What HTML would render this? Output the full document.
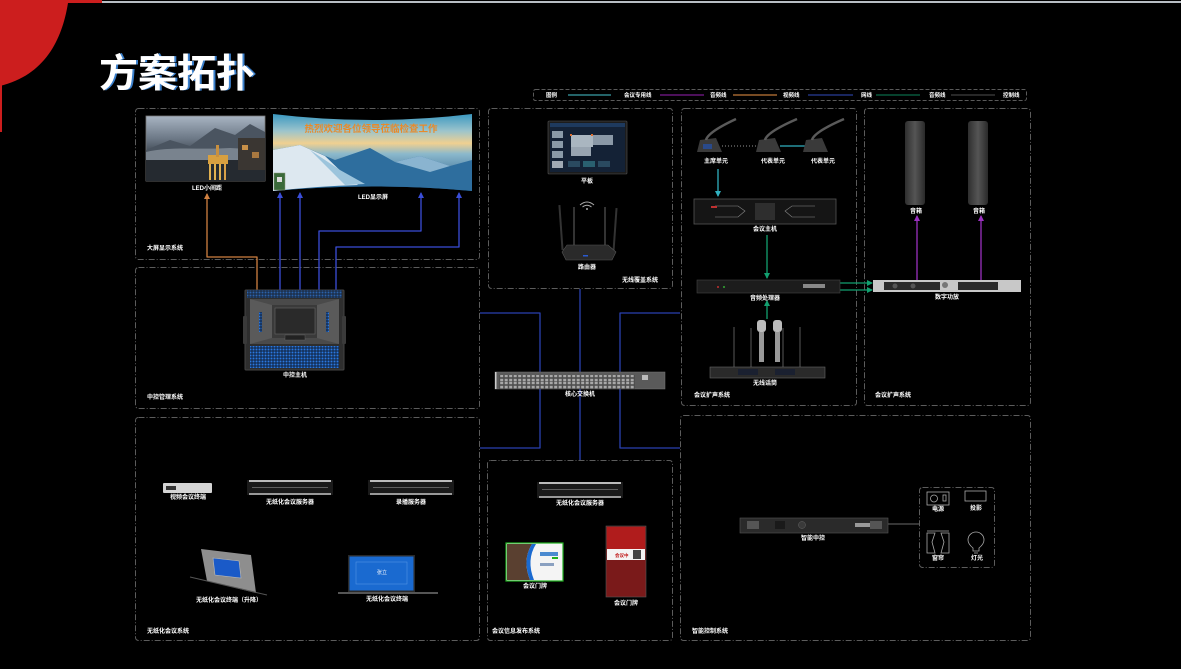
<!DOCTYPE html>
<html><head><meta charset="utf-8"><style>
html,body{margin:0;padding:0;background:#000;}
svg{display:block;}
text{font-family:"Liberation Sans","Noto Sans CJK SC",sans-serif;fill:#fff;font-weight:bold;}
.l{font-size:6px;text-anchor:middle;}
.s{font-size:6px;text-anchor:start;}
</style></head><body>
<svg width="1181" height="669" viewBox="0 0 1181 669" xmlns="http://www.w3.org/2000/svg">
<defs>
<marker id="aO" markerWidth="6" markerHeight="6" refX="5" refY="3" orient="auto" markerUnits="userSpaceOnUse"><path d="M0,0 L6,3 L0,6 Z" fill="#d08040"/></marker>
<marker id="aB" markerWidth="6" markerHeight="6" refX="5" refY="3" orient="auto" markerUnits="userSpaceOnUse"><path d="M0,0 L6,3 L0,6 Z" fill="#3a4ed8"/></marker>
<marker id="aT" markerWidth="6" markerHeight="6" refX="5" refY="3" orient="auto" markerUnits="userSpaceOnUse"><path d="M0,0 L6,3 L0,6 Z" fill="#30b0c0"/></marker>
<marker id="aG" markerWidth="6" markerHeight="6" refX="5" refY="3" orient="auto" markerUnits="userSpaceOnUse"><path d="M0,0 L6,3 L0,6 Z" fill="#12a070"/></marker>
<marker id="aP" markerWidth="6" markerHeight="6" refX="5" refY="3" orient="auto" markerUnits="userSpaceOnUse"><path d="M0,0 L6,3 L0,6 Z" fill="#9a30c0"/></marker>
<linearGradient id="sky1" x1="0" y1="0" x2="0" y2="1">
<stop offset="0" stop-color="#a8b4c2"/><stop offset="0.35" stop-color="#6c7886"/><stop offset="0.6" stop-color="#3a424c"/><stop offset="1" stop-color="#1e2228"/></linearGradient>
<linearGradient id="sky2" x1="0" y1="0" x2="0" y2="1">
<stop offset="0" stop-color="#3a98c0"/><stop offset="0.22" stop-color="#9cc4cc"/><stop offset="0.38" stop-color="#f0d090"/><stop offset="0.52" stop-color="#8ab8cc"/><stop offset="1" stop-color="#1a4e80"/></linearGradient>
<linearGradient id="spk" x1="0" y1="0" x2="1" y2="0">
<stop offset="0" stop-color="#2e2e2e"/><stop offset="0.5" stop-color="#555"/><stop offset="1" stop-color="#2a2a2a"/></linearGradient>
<pattern id="dots" width="3" height="3" patternUnits="userSpaceOnUse"><rect width="3" height="3" fill="#10203a"/><rect x="0.5" y="0.5" width="2" height="2" fill="#2a78e0"/></pattern>
<pattern id="ports" width="4.5" height="7" patternUnits="userSpaceOnUse"><rect width="4.5" height="7" fill="#4e4e4e"/><rect x="0.7" y="0.8" width="3" height="2.4" fill="#a8a8a8"/><rect x="0.7" y="3.8" width="3" height="2.4" fill="#a8a8a8"/></pattern>
</defs>
<rect width="1181" height="669" fill="#000"/>
<rect x="100" y="1" width="1081" height="2" fill="#b8bec4"/>
<path d="M0,0 H102 V3 H68 C62,40 45,75 0,86 Z" fill="#cc1e1e"/>
<rect x="0" y="84" width="2" height="48" fill="#cc1e1e"/>
<text x="101" y="87" style="font-size:39px;fill:#4aa0ff" opacity="0.8">方案拓扑</text>
<text x="99" y="87" style="font-size:39px;">方案拓扑</text>

<rect x="533.5" y="89.5" width="493" height="11" rx="2" fill="none" stroke="#5a5a5a" stroke-dasharray="4 2"/>
<g style="font-size:5.5px">
<text x="546" y="97">图例</text>
<text x="624" y="97">会议专用线</text>
<text x="710" y="97">音频线</text>
<text x="783" y="97">视频线</text>
<text x="861" y="97">网线</text>
<text x="929" y="97">音频线</text>
<text x="1003" y="97">控制线</text>
</g>
<g stroke-width="1.3">
<line x1="568" y1="95" x2="611" y2="95" stroke="#3aa0a8"/>
<line x1="660" y1="95" x2="704" y2="95" stroke="#7a1a90"/>
<line x1="733" y1="95" x2="777" y2="95" stroke="#c07838"/>
<line x1="808" y1="95" x2="853" y2="95" stroke="#283c98"/>
<line x1="876" y1="95" x2="920" y2="95" stroke="#0a6a48"/>
<line x1="951" y1="95" x2="995" y2="95" stroke="#404040"/>
</g>

<g fill="none" stroke="#5c5c5c" stroke-width="1" stroke-dasharray="6 2 1 2">
<rect x="135.5" y="108.5" width="344" height="151" rx="3"/>
<rect x="135.5" y="267.5" width="344" height="141" rx="3"/>
<rect x="488.5" y="108.5" width="184" height="180" rx="3"/>
<rect x="681.5" y="108.5" width="175" height="297" rx="3"/>
<rect x="864.5" y="108.5" width="166" height="297" rx="3"/>
<rect x="135.5" y="417.5" width="344" height="223" rx="3"/>
<rect x="487.5" y="460.5" width="185" height="180" rx="3"/>
<rect x="680.5" y="415.5" width="350" height="225" rx="3"/>
<rect x="919.5" y="487.5" width="75" height="80" rx="3"/>
</g>

<g fill="none" stroke-width="1.3" stroke-linejoin="round">
<path d="M257,290 V257 H207 V194" stroke="#d08040" marker-end="url(#aO)"/>
<path d="M280,290 V193" stroke="#3a4ed8" marker-end="url(#aB)"/>
<path d="M300,290 V193" stroke="#3a4ed8" marker-end="url(#aB)"/>
<path d="M319,290 V231 H421 V193" stroke="#3a4ed8" marker-end="url(#aB)"/>
<path d="M336,290 V247 H459 V193" stroke="#3a4ed8" marker-end="url(#aB)"/>
<path d="M580,289 V460" stroke="#2a40b0"/>
<path d="M480,313 H540 V448 H480" stroke="#2a40b0"/>
<path d="M680,313 H620 V448 H680" stroke="#2a40b0"/>
<path d="M718,169 V196" stroke="#30b0c0" marker-end="url(#aT)"/>
<path d="M780,146 H806" stroke="#30b0c0"/>
<path d="M722,146 H758" stroke="#777" stroke-dasharray="1 2"/>
<path d="M767,235 V278" stroke="#12a070" marker-end="url(#aG)"/>
<path d="M767,319 V301" stroke="#12a070" marker-end="url(#aG)"/>
<path d="M840,283 H872" stroke="#12a070" marker-end="url(#aG)"/>
<path d="M840,290 H872" stroke="#12a070" marker-end="url(#aG)"/>
<path d="M917,280 V216" stroke="#9a30c0" marker-end="url(#aP)"/>
<path d="M981,280 V216" stroke="#9a30c0" marker-end="url(#aP)"/>
<path d="M888,524 H919" stroke="#555"/>
</g>

<rect x="146" y="116" width="119" height="65" fill="url(#sky1)" stroke="#777" stroke-width="0.8"/>
<path d="M146,150 L170,140 L190,146 L215,128 L235,135 L250,124 L265,132 L265,160 L146,160 Z" fill="#4a5460"/>
<path d="M146,152 C170,146 200,150 230,148 L265,150 L265,165 L146,165 Z" fill="#9aa4ae" opacity="0.6"/>
<rect x="146" y="160" width="119" height="21" fill="#252a30"/>
<rect x="208" y="155" width="20" height="9" fill="#d8a040"/>
<rect x="216" y="145" width="3" height="12" fill="#c89040"/>
<rect x="209" y="164" width="2" height="16" fill="#e0b050"/><rect x="214" y="164" width="2" height="16" fill="#e0b050"/><rect x="219" y="164" width="2" height="16" fill="#e0b050"/><rect x="224" y="164" width="2" height="16" fill="#d8a048"/>
<rect x="238" y="138" width="27" height="32" fill="#3a3632"/>
<rect x="242" y="145" width="6" height="5" fill="#c89048"/><rect x="252" y="152" width="7" height="6" fill="#a87840"/>

<path d="M273,114 Q372,126 472,114 L472,191 Q372,182 273,191 Z" fill="url(#sky2)"/>
<path d="M273,150 L300,145 L335,160 L370,148 L395,162 L420,156 L450,166 L472,160 L472,191 Q372,182 273,191 Z" fill="#2e6e9e"/>
<path d="M273,150 L300,145 L325,156 L350,180 L358,185 Q320,186 273,191 Z" fill="#dde8f0"/>
<path d="M310,150 L340,170 L365,184 L345,185 L325,165 Z" fill="#9cc4dc"/>
<path d="M395,162 L420,156 L450,166 L430,172 Z" fill="#8ab4d0"/>
<text x="371" y="132" style="font-size:9.5px;fill:#e88a2a;text-anchor:middle">热烈欢迎各位领导莅临检查工作</text>
<rect x="274" y="173" width="11" height="17" fill="#3a6a3a" stroke="#8a9a7a" stroke-width="0.5"/>
<rect x="277" y="177" width="5" height="5" fill="#ddd"/>

<rect x="245" y="290" width="99" height="80" rx="1" fill="#2e2e2e" stroke="#444"/>
<rect x="247" y="290" width="95" height="8" fill="url(#dots)" opacity="0.7"/>
<rect x="250" y="299" width="89" height="45" fill="#4a4a4a"/>
<path d="M250,299 L272,305 L272,338 L250,344 Z" fill="#5a5a5a"/>
<path d="M339,299 L317,305 L317,338 L339,344 Z" fill="#5a5a5a"/>
<rect x="272" y="305" width="45" height="33" fill="#3a3a3a"/>
<rect x="275" y="308" width="40" height="26" fill="#2a2a2a" stroke="#666" stroke-width="0.6"/>
<rect x="259" y="312" width="3" height="20" fill="url(#dots)"/>
<rect x="326" y="312" width="3" height="20" fill="url(#dots)"/>
<rect x="285" y="335" width="20" height="5" fill="#222" stroke="#666" stroke-width="0.4"/>
<rect x="250" y="346" width="89" height="22" fill="url(#dots)"/>
<rect x="243" y="316" width="4" height="28" rx="1" fill="#3a3a3a"/>
<rect x="342" y="316" width="4" height="28" rx="1" fill="#3a3a3a"/>

<rect x="548" y="121" width="79" height="53" rx="1" fill="#1c1c1c" stroke="#555" stroke-width="0.6"/>
<rect x="550" y="123" width="75" height="49" fill="#142236"/>
<rect x="550" y="123" width="75" height="4" fill="#1e3a5e"/>
<rect x="552" y="131" width="11" height="7" fill="#8a9aa8"/><rect x="552" y="141" width="11" height="7" fill="#8a9aa8"/><rect x="552" y="151" width="11" height="7" fill="#8a9aa8"/><rect x="552" y="161" width="11" height="7" fill="#a0aab4"/>
<rect x="571" y="135" width="22" height="12" fill="#aab6c0"/><rect x="593" y="135" width="20" height="10" fill="#8a98a6"/><rect x="571" y="147" width="20" height="9" fill="#98a4b0"/>
<rect x="570" y="134" width="2" height="2" fill="#e07030"/><rect x="591" y="134" width="2" height="2" fill="#e07030"/>
<rect x="568" y="161" width="12" height="6" fill="#2a4a60"/><rect x="583" y="161" width="12" height="6" fill="#2a6070"/><rect x="598" y="161" width="12" height="6" fill="#2a4a60"/>
<path d="M580,205 Q587,199 594,205" fill="none" stroke="#aaa" stroke-width="1"/>
<path d="M582.5,207 Q587,203.5 591.5,207" fill="none" stroke="#aaa" stroke-width="1"/>
<circle cx="587" cy="209" r="1" fill="#aaa"/>
<rect x="560" y="205" width="2" height="45" fill="#333" transform="rotate(-4 561 228)"/>
<rect x="573" y="207" width="2" height="40" fill="#333"/>
<rect x="604" y="207" width="2" height="40" fill="#333"/>
<rect x="614" y="208" width="2" height="45" fill="#333" transform="rotate(4 615 230)"/>
<path d="M562,252 L567,245 L608,245 L616,252 L612,260 L566,260 Z" fill="#2a2a2a" stroke="#555" stroke-width="0.6"/>
<rect x="583" y="255" width="5" height="1.5" fill="#2a5ad0"/>

<rect x="495" y="372" width="170" height="17" fill="#5a5a5a" stroke="#777" stroke-width="0.5"/>
<rect x="499" y="375" width="136" height="14" fill="url(#ports)"/>
<rect x="642" y="375" width="6" height="5" fill="#bbb"/>
<rect x="495" y="372" width="1.5" height="17" fill="#ccc"/>

<g>
<path d="M697,152 L700,140 L716,138 L722,152 Z" fill="#3a3a3a"/>
<path d="M706,140 Q708,132 736,119" stroke="#5a5a5a" stroke-width="2.5" fill="none"/>
<rect x="703" y="144" width="9" height="5" fill="#2a4a8a"/>
<path d="M756,152 L759,140 L775,138 L781,152 Z" fill="#3a3a3a"/>
<path d="M765,140 Q767,132 797,119" stroke="#5a5a5a" stroke-width="2.5" fill="none"/>
<path d="M803,152 L806,140 L822,138 L828,152 Z" fill="#3a3a3a"/>
<path d="M812,140 Q814,132 844,119" stroke="#5a5a5a" stroke-width="2.5" fill="none"/>
</g>
<rect x="694" y="199" width="142" height="25" fill="#151515" stroke="#555" stroke-width="0.8"/>
<rect x="755" y="203" width="20" height="17" fill="#2e2e2e"/>
<path d="M715,206 L738,206 L745,211 L738,217 L715,217" fill="none" stroke="#888" stroke-width="0.6"/>
<path d="M815,206 L792,206 L785,211 L792,217 L815,217" fill="none" stroke="#888" stroke-width="0.6"/>
<rect x="711" y="206" width="6" height="2" fill="#c03030"/>
<rect x="697" y="280" width="143" height="13" fill="#1c1c1c" stroke="#444" stroke-width="0.6"/>
<rect x="803" y="284" width="22" height="4" fill="#888"/>
<circle cx="718" cy="287" r="1" fill="#c03030"/><circle cx="724" cy="287" r="1" fill="#3a3"/>
<g stroke="#444" stroke-width="1.3">
<line x1="734" y1="327" x2="734" y2="368"/><line x1="751" y1="328" x2="751" y2="368"/>
<line x1="783" y1="328" x2="783" y2="368"/><line x1="800" y1="327" x2="800" y2="368"/>
</g>
<rect x="757" y="320" width="9" height="12" rx="3" fill="#bbb"/><rect x="759" y="332" width="5" height="30" fill="#999"/>
<rect x="773" y="320" width="9" height="12" rx="3" fill="#bbb"/><rect x="775" y="332" width="5" height="30" fill="#999"/>
<rect x="710" y="367" width="115" height="11" fill="#2a2a2a" stroke="#666" stroke-width="0.6"/>
<rect x="738" y="369" width="20" height="6" fill="#1a2030"/><rect x="775" y="369" width="20" height="6" fill="#1a2030"/>

<rect x="905" y="121" width="20" height="84" rx="3" fill="url(#spk)"/>
<rect x="968" y="121" width="20" height="84" rx="3" fill="url(#spk)"/>
<rect x="873" y="280" width="148" height="12" fill="#c8c8c8"/>
<rect x="884" y="282" width="56" height="8" fill="#2a2a2a"/>
<rect x="958" y="282" width="40" height="8" fill="#2a2a2a"/>
<circle cx="895" cy="286" r="2.5" fill="#555"/><circle cx="913" cy="286" r="2.5" fill="#555"/><circle cx="945" cy="285" r="3" fill="#777"/>

<rect x="163" y="483" width="49" height="10" rx="1" fill="#d4d4d4"/>
<rect x="166" y="486" width="10" height="4" fill="#333"/>
<g>
<rect x="247" y="480" width="86" height="15" fill="#1a1a1a"/>
<rect x="249" y="480" width="82" height="2" fill="#bbb"/><rect x="249" y="493" width="82" height="2" fill="#999"/>
<line x1="252" y1="487.5" x2="328" y2="487.5" stroke="#777" stroke-width="0.8"/>
<rect x="368" y="480" width="86" height="15" fill="#1a1a1a"/>
<rect x="370" y="480" width="82" height="2" fill="#bbb"/><rect x="370" y="493" width="82" height="2" fill="#999"/>
<line x1="373" y1="487.5" x2="449" y2="487.5" stroke="#777" stroke-width="0.8"/>
</g>
<path d="M201,549 L251,555 L256,593 L207,581 Z" fill="#8e8e8e"/>
<path d="M213,558 L239,561 L241,578 L215,575 Z" fill="#1a5ac8" stroke="#bbb" stroke-width="0.6"/>
<line x1="190" y1="577" x2="267" y2="595" stroke="#555" stroke-width="1"/>
<rect x="348" y="555" width="67" height="37" fill="#2a2a2a"/>
<rect x="349.5" y="556.5" width="64" height="34" fill="#1a6ad0"/>
<rect x="356" y="562" width="51" height="22" fill="none" stroke="#5a9ae8" stroke-width="0.5"/>
<text x="382" y="574" style="font-size:5px;text-anchor:middle;font-weight:normal">张立</text>
<rect x="338" y="592" width="100" height="2" fill="#555"/>

<rect x="537" y="482" width="86" height="16" fill="#1a1a1a"/>
<rect x="539" y="482" width="82" height="2" fill="#bbb"/><rect x="539" y="496" width="82" height="2" fill="#999"/>
<line x1="542" y1="489.5" x2="618" y2="489.5" stroke="#777" stroke-width="0.8"/>
<rect x="506" y="543" width="57" height="38" fill="#f4f4f4" stroke="#20b020" stroke-width="1.2"/>
<path d="M507,544 L532,544 Q522,560 530,580 L507,580 Z" fill="#5a4030"/>
<path d="M532,544 Q522,560 530,580 L534,580 Q526,560 536,544 Z" fill="#1a6ad0"/>
<rect x="540" y="552" width="18" height="4" fill="#4a8ad0"/><rect x="552" y="557" width="6" height="2" fill="#20b020"/>
<rect x="540" y="563" width="14" height="3" fill="#8aa0c0"/>
<rect x="606" y="526" width="40" height="71" fill="#7a1a1a" stroke="#555" stroke-width="0.6"/>
<rect x="607" y="527" width="38" height="22" fill="#b01c1c"/>
<rect x="607" y="549" width="38" height="11" fill="#f4f4f4"/>
<text x="615" y="557" style="font-size:4.5px;fill:#c01818">会议中</text>
<rect x="633" y="550" width="8" height="9" fill="#444"/>

<rect x="740" y="518" width="148" height="15" fill="#2a2a2a" stroke="#555" stroke-width="0.6"/>
<rect x="775" y="521" width="10" height="8" fill="#1a1a1a"/>
<circle cx="802" cy="525" r="3.5" fill="#3a3a3a" stroke="#666" stroke-width="0.5"/>
<rect x="855" y="523" width="15" height="4" fill="#999"/>
<rect x="747" y="521" width="12" height="8" fill="#555"/><rect x="870" y="521" width="12" height="8" fill="#555"/>
<g fill="none" stroke="#aaa" stroke-width="0.8">
<rect x="927" y="492" width="22" height="13"/>
<circle cx="934" cy="498.5" r="3.5"/>
<rect x="943" y="495" width="3" height="6"/>
<rect x="965" y="491" width="21" height="10"/>
<line x1="927" y1="531" x2="949" y2="531"/>
<path d="M927,533 L935,533 L932,542 L935,553 L927,553 Z"/>
<path d="M949,533 L941,533 L944,542 L941,553 L949,553 Z"/>
<path d="M973,551 L973,548 Q968,544 968,540 A8,8 0 1 1 984,540 Q984,544 979,548 L979,551 Z"/>
<line x1="974" y1="553" x2="978" y2="553"/>
</g>

<text class="l" x="207" y="190">LED小间距</text>
<text class="l" x="373" y="199">LED显示屏</text>
<text class="s" x="147" y="250">大屏显示系统</text>
<text class="l" x="295" y="377">中控主机</text>
<text class="s" x="147" y="399">中控管理系统</text>
<text class="l" x="587" y="183">平板</text>
<text class="l" x="587" y="269">路由器</text>
<text class="s" x="622" y="282">无线覆盖系统</text>
<text class="l" x="580" y="396">核心交换机</text>
<text class="l" x="716" y="163">主席单元</text>
<text class="l" x="773" y="163">代表单元</text>
<text class="l" x="823" y="163">代表单元</text>
<text class="l" x="765" y="231">会议主机</text>
<text class="l" x="765" y="300">音频处理器</text>
<text class="l" x="765" y="385">无线话筒</text>
<text class="s" x="694" y="397">会议扩声系统</text>
<text class="l" x="916" y="213">音箱</text>
<text class="l" x="979" y="213">音箱</text>
<text class="l" x="947" y="299">数字功放</text>
<text class="s" x="875" y="397">会议扩声系统</text>
<text class="l" x="188" y="499">视频会议终端</text>
<text class="l" x="290" y="504">无纸化会议服务器</text>
<text class="l" x="411" y="504">录播服务器</text>
<text class="l" x="229" y="602">无纸化会议终端（升降）</text>
<text class="l" x="387" y="601">无纸化会议终端</text>
<text class="s" x="147" y="633">无纸化会议系统</text>
<text class="l" x="580" y="505">无纸化会议服务器</text>
<text class="l" x="535" y="588">会议门牌</text>
<text class="l" x="626" y="605">会议门牌</text>
<text class="s" x="492" y="633">会议信息发布系统</text>
<text class="l" x="813" y="540">智能中控</text>
<text class="l" x="938" y="511">电源</text>
<text class="l" x="976" y="510">投影</text>
<text class="l" x="938" y="560">窗帘</text>
<text class="l" x="977" y="560">灯光</text>
<text class="s" x="692" y="633">智能控制系统</text>
</svg>
</body></html>
